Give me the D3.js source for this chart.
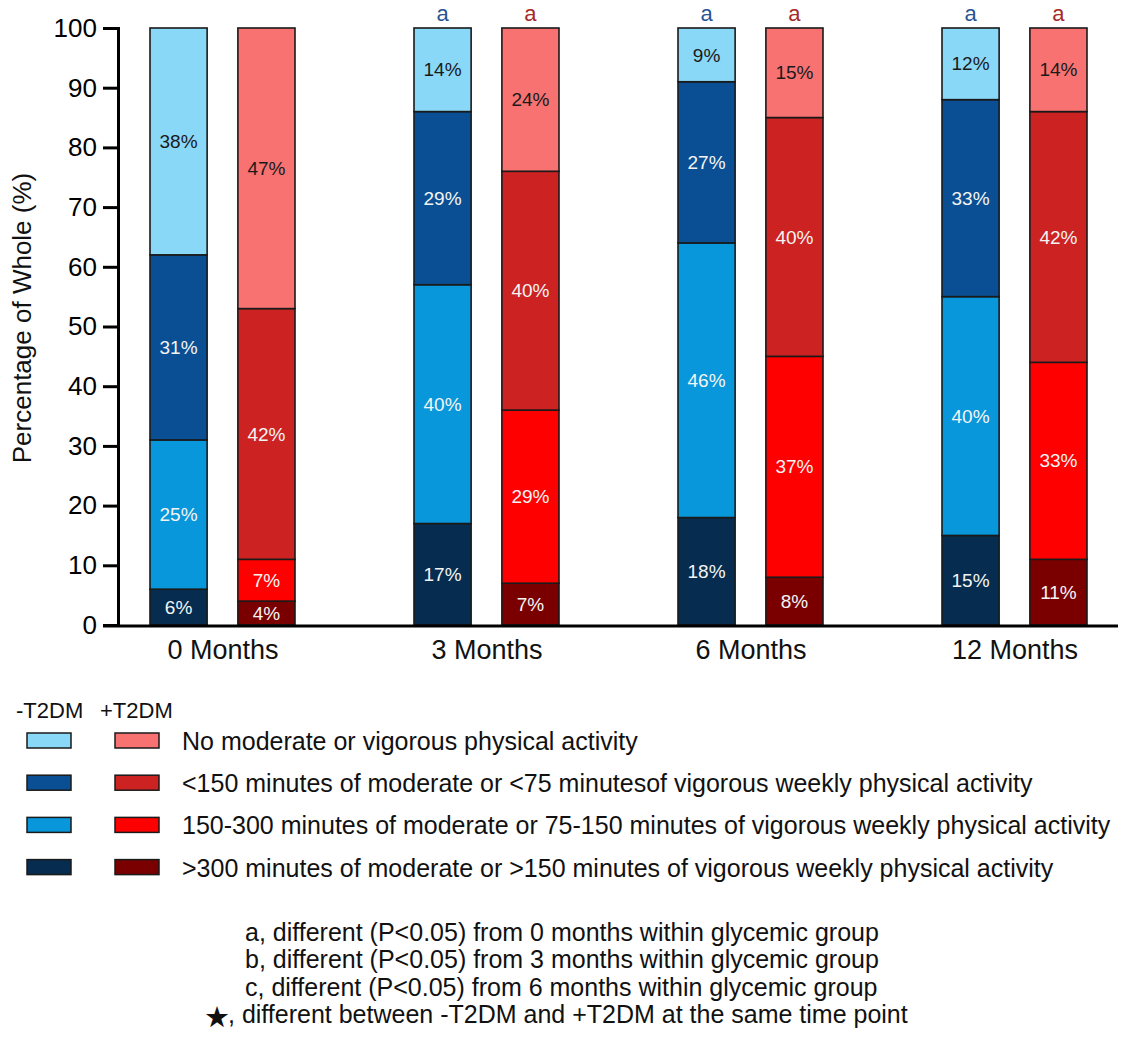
<!DOCTYPE html>
<html>
<head>
<meta charset="utf-8">
<script src="https://cdn.jsdelivr.net/npm/d3@7"></script>
<style>
  body { margin: 0; background: #fff; }
  svg { font-family: Arial, "Liberation Sans", Helvetica, sans-serif; }
</style>
</head>
<body>
<div id="chart"></div>
<script>
// time points along the x axis
const timepoints = ['0 Months', '3 Months', '6 Months', '12 Months'];
const groups = ['-T2DM', '+T2DM'];

// activity categories, stacked bottom to top
const categories = [
  '>300 minutes of moderate or >150 minutes of vigorous weekly physical activity',
  '150-300 minutes of moderate or 75-150 minutes of vigorous weekly physical activity',
  '<150 minutes of moderate or <75 minutesof vigorous weekly physical activity',
  'No moderate or vigorous physical activity'
];

// percentages per time point, in category order (bottom to top)
const noT2dm = [
  [6, 25, 31, 38],
  [17, 40, 29, 14],
  [18, 46, 27, 9],
  [15, 40, 33, 12]
];
const withT2dm = [
  [4, 7, 42, 47],
  [7, 29, 40, 24],
  [8, 37, 40, 15],
  [11, 33, 42, 14]
];

// significance letters above bars
const sigNoT2dm = ['', 'a', 'a', 'a'];
const sigWithT2dm = ['', 'a', 'a', 'a'];

const footnotes = [
  'a, different (P<0.05) from 0 months within glycemic group',
  'b, different (P<0.05) from 3 months within glycemic group',
  'c, different (P<0.05) from 6 months within glycemic group'
];
const starNote = ', different between -T2DM and +T2DM at the same time point';

const blueColors = ['#062c4f', '#0897da', '#0a4f93', '#8ad8f8'];
const redColors = ['#7a0000', '#ff0000', '#cc2222', '#f87272'];
const lightText = [false, false, false, true];

const width = 1126, height = 1042;

const svg = d3.select('#chart')
  .append('svg')
  .attr('width', width)
  .attr('height', height);

const y = d3.scaleLinear().domain([0, 100]).range([625, 28]);

const x0 = d3.scalePoint()
  .domain(timepoints)
  .range([222.5, 1014.5]);

const x1 = d3.scaleBand()
  .domain(groups)
  .range([-72.5, 72.5])
  .paddingInner(0.35);

// build stacked rows
const rows = [];
timepoints.forEach((t, i) => {
  [noT2dm[i], withT2dm[i]].forEach((vals, g) => {
    let sum = 0;
    vals.forEach((v, c) => {
      rows.push({
        time: t, group: groups[g], cat: c, value: v,
        y0: sum, y1: sum + v,
        fill: g === 0 ? blueColors[c] : redColors[c]
      });
      sum += v;
    });
  });
});

const bars = svg.append('g');

bars.selectAll('rect')
  .data(rows)
  .join('rect')
  .attr('x', d => x0(d.time) + x1(d.group))
  .attr('y', d => y(d.y1))
  .attr('width', x1.bandwidth())
  .attr('height', d => y(d.y0) - y(d.y1))
  .attr('fill', d => d.fill)
  .attr('stroke', '#1a1a1a')
  .attr('stroke-width', 1.6);

bars.selectAll('text')
  .data(rows)
  .join('text')
  .attr('x', d => x0(d.time) + x1(d.group) + x1.bandwidth() / 2)
  .attr('y', d => y((d.y0 + d.y1) / 2))
  .attr('dy', '0.35em')
  .attr('text-anchor', 'middle')
  .style('font-size', '19px')
  .attr('fill', d => lightText[d.cat] ? '#1a1a1a' : '#f4f4f4')
  .text(d => d.value + '%');

// significance letters
const sigRows = [];
timepoints.forEach((t, i) => {
  sigRows.push({ time: t, group: groups[0], text: sigNoT2dm[i], color: '#2a5593' });
  sigRows.push({ time: t, group: groups[1], text: sigWithT2dm[i], color: '#a42a2a' });
});
svg.append('g').selectAll('text')
  .data(sigRows)
  .join('text')
  .attr('x', d => x0(d.time) + x1(d.group) + x1.bandwidth() / 2)
  .attr('y', 21)
  .attr('text-anchor', 'middle')
  .style('font-size', '22px')
  .attr('fill', d => d.color)
  .text(d => d.text);

// y axis
const yAxis = svg.append('g')
  .attr('transform', 'translate(118,0)')
  .call(d3.axisLeft(y).tickValues(d3.range(0, 101, 10)).tickSize(15).tickPadding(6));
yAxis.select('.domain').attr('stroke', '#000').attr('stroke-width', 3);
yAxis.selectAll('.tick line').attr('stroke', '#000').attr('stroke-width', 3);
yAxis.selectAll('.tick text')
  .style('font-size', '26px')
  .style('font-family', 'Arial, "Liberation Sans", sans-serif')
  .attr('fill', '#000');

// x axis
const xAxis = svg.append('g')
  .attr('transform', 'translate(0,626)')
  .call(d3.axisBottom(x0).tickSize(0).tickPadding(14));
xAxis.select('.domain')
  .attr('d', 'M103,0H1118')
  .attr('stroke', '#000')
  .attr('stroke-width', 3);
xAxis.selectAll('.tick text')
  .style('font-size', '27px')
  .style('font-family', 'Arial, "Liberation Sans", sans-serif')
  .attr('fill', '#111');

// y label
svg.append('text')
  .attr('transform', 'translate(31,318) rotate(-90)')
  .attr('text-anchor', 'middle')
  .style('font-size', '26px')
  .attr('fill', '#111')
  .text('Percentage of Whole (%)');

// legend
const legend = svg.append('g');
legend.append('text').attr('x', 16).attr('y', 718).style('font-size', '22px').attr('fill', '#111').text(groups[0]);
legend.append('text').attr('x', 100).attr('y', 718).style('font-size', '22px').attr('fill', '#111').text(groups[1]);

const legendOrder = [3, 2, 1, 0];
const legendRows = legend.selectAll('g.row')
  .data(legendOrder)
  .join('g')
  .attr('class', 'row')
  .attr('transform', (d, i) => `translate(0,${733 + i * 42.2})`);

legendRows.append('rect')
  .attr('x', 27).attr('y', 0).attr('width', 44).attr('height', 15)
  .attr('fill', d => blueColors[d])
  .attr('stroke', '#1a1a1a').attr('stroke-width', 1.5);
legendRows.append('rect')
  .attr('x', 115).attr('y', 0).attr('width', 44).attr('height', 15)
  .attr('fill', d => redColors[d])
  .attr('stroke', '#1a1a1a').attr('stroke-width', 1.5);
legendRows.append('text')
  .attr('x', 182).attr('y', 17)
  .style('font-size', '25px')
  .attr('fill', '#111')
  .text(d => categories[d]);

// footnotes
const notes = svg.append('g');
notes.selectAll('text.fn')
  .data(footnotes)
  .join('text')
  .attr('class', 'fn')
  .attr('x', 245)
  .attr('y', (d, i) => 941 + i * 27.3)
  .style('font-size', '25px')
  .attr('fill', '#111')
  .text(d => d);
notes.append('text')
  .attr('x', 204)
  .attr('y', 1027)
  .style('font-size', '29px')
  .style('font-family', '"DejaVu Sans", sans-serif')
  .attr('fill', '#111')
  .text('\u2605');
notes.append('text')
  .attr('x', 228)
  .attr('y', 941 + 3 * 27.3)
  .style('font-size', '25px')
  .attr('fill', '#111')
  .text(starNote);
</script>
</body>
</html>
